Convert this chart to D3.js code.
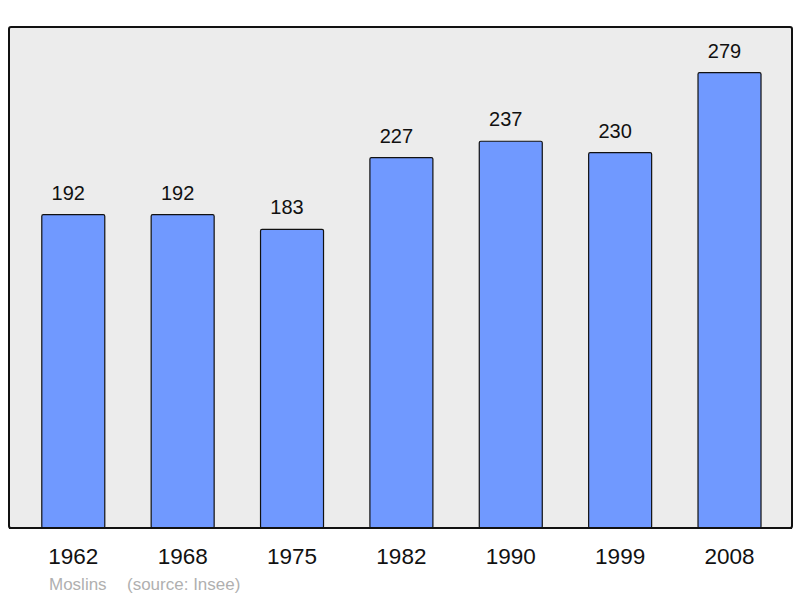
<html>
<head>
<script src="https://cdnjs.cloudflare.com/ajax/libs/d3/7.8.5/d3.min.js"></script>
<style>
  body { margin: 0; background: #fff; }
  text { font-family: "Liberation Sans", Arial, sans-serif; }
</style>
</head>
<body>
<svg id="svg"></svg>
<script>
  var years = ["1962", "1968", "1975", "1982", "1990", "1999", "2008"];
  var population = [192, 192, 183, 227, 237, 230, 279];
  var town = "Moslins";
  var source = "(source: Insee)";

  var width = 800,
      height = 598;

  var svg = d3.select("#svg")
    .attr("width", width)
    .attr("height", height);

  // plot frame
  svg.append("rect")
    .attr("x", 9)
    .attr("y", 27)
    .attr("width", 783)
    .attr("height", 501)
    .attr("rx", 2)
    .attr("fill", "#ececec")
    .attr("stroke", "#111")
    .attr("stroke-width", 2);

  var x = d3.scaleBand()
    .domain(years)
    .range([18.6, 784.2])
    .paddingInner(0.424)
    .paddingOuter(0.212);

  var y = d3.scaleLinear()
    .domain([0, 307])
    .range([528, 27]);

  var rows = years.map(function(yr, i) { return { year: yr, value: population[i] }; });

  svg.selectAll("rect.bar").data(rows)
    .enter().append("rect")
      .attr("class", "bar")
      .attr("x", function(d) { return x(d.year); })
      .attr("y", function(d) { return y(d.value); })
      .attr("width", x.bandwidth())
      .attr("height", function(d) { return y(0) - y(d.value); })
      .attr("rx", 1.5)
      .attr("fill", "#7099ff")
      .attr("stroke", "#111")
      .attr("stroke-width", 1.2);

  // value labels sit a little left of the bar centre
  svg.selectAll("text.val").data(rows)
    .enter().append("text")
      .attr("class", "val")
      .attr("x", function(d) { return x(d.year) + x.bandwidth() / 2 - 5; })
      .attr("y", function(d) { return y(d.value) - 15; })
      .attr("text-anchor", "middle")
      .attr("font-size", 20)
      .attr("fill", "#111")
      .text(function(d) { return d.value; });

  // redraw baseline over bar bottoms
  svg.append("line")
    .attr("x1", 9).attr("x2", 792)
    .attr("y1", 528).attr("y2", 528)
    .attr("stroke", "#111")
    .attr("stroke-width", 2);

  svg.selectAll("text.year").data(years)
    .enter().append("text")
      .attr("class", "year")
      .attr("x", function(d) { return x(d) + x.bandwidth() / 2; })
      .attr("y", 564)
      .attr("text-anchor", "middle")
      .attr("font-size", 22.5)
      .attr("fill", "#111")
      .text(function(d) { return d; });

  svg.append("text")
    .attr("x", 49)
    .attr("y", 590)
    .attr("font-size", 17)
    .attr("fill", "#b0b0b0")
    .text(town);

  svg.append("text")
    .attr("x", 127)
    .attr("y", 590)
    .attr("font-size", 17)
    .attr("fill", "#b0b0b0")
    .text(source);
</script>
</body>
</html>
